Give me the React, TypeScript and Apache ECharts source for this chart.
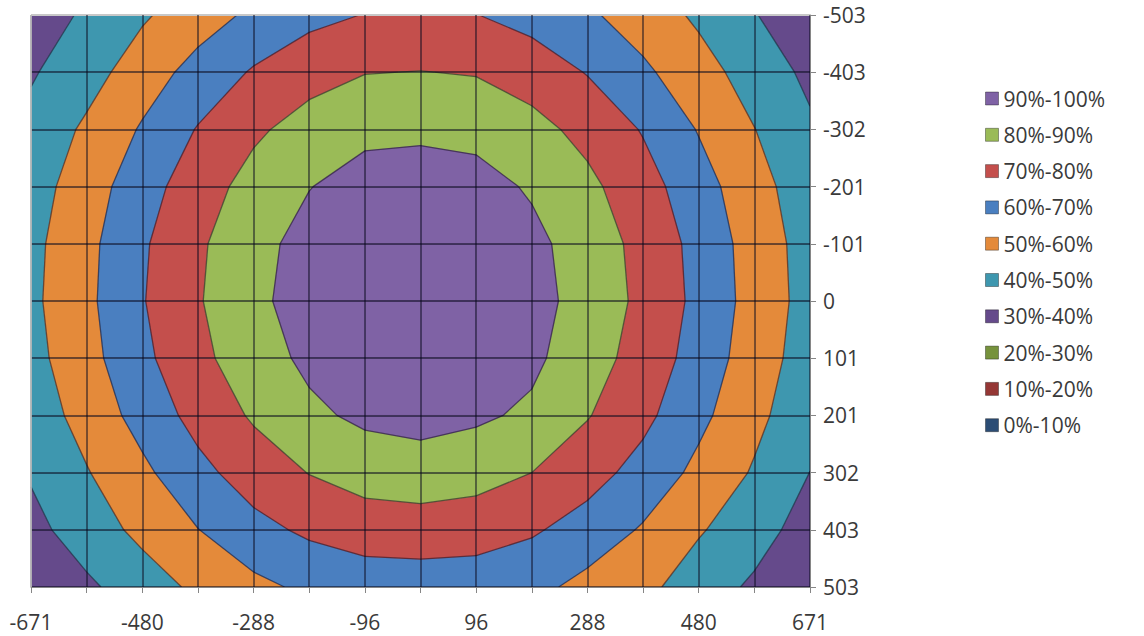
import React, { useEffect, useRef } from "react";
import * as echarts from "echarts";

// category labels
const xLabels = ["-671", "-575", "-480", "-384", "-288", "-192", "-96", "0", "96", "192", "288", "384", "480", "575", "671"];
const yLabels = ["-503", "-403", "-302", "-201", "-101", "0", "101", "201", "302", "403", "503"];

// band names / colours (0%-10% ... 90%-100%)
const bandNames = ["0%-10%", "10%-20%", "20%-30%", "30%-40%", "40%-50%", "50%-60%", "60%-70%", "70%-80%", "80%-90%", "90%-100%"];
const bandColors = ["#2C4D75", "#953735", "#76923C", "#654A8B", "#3E97AF", "#E48A3A", "#4A7FC0", "#C44F4C", "#9ABB57", "#7F62A5"];

// surface values (%), one array per y category (top -503 ... bottom 503), 15 x categories each
const rowM503 = [34.4, 41.6, 48.7, 55.5, 61.9, 67.2, 70.3, 71.2, 70.2, 66.4, 61.5, 55.3, 48.3, 40.5, 33.2];
const rowM403 = [39.0, 46.0, 55.1, 63.5, 71.0, 76.4, 79.7, 80.2, 79.4, 75.6, 69.5, 61.8, 53.9, 45.7, 37.8];
const rowM302 = [42.9, 51.7, 61.0, 70.6, 78.3, 83.9, 87.6, 87.8, 87.2, 83.1, 77.1, 69.3, 59.4, 50.2, 41.5];
const rowM201 = [45.7, 55.2, 65.8, 75.5, 83.5, 89.7, 94.0, 95.6, 93.5, 88.9, 82.3, 74.0, 64.1, 53.7, 44.3];
const rowM101 = [47.4, 57.3, 68.7, 78.5, 86.8, 93.5, 97.9, 99.1, 97.5, 92.5, 85.5, 77.0, 66.9, 55.7, 45.9];
const row0 = [47.9, 57.8, 69.4, 79.2, 87.6, 94.6, 98.8, 99.9, 98.3, 93.4, 86.3, 77.7, 67.5, 56.2, 46.3];
const row101 = [46.8, 56.6, 67.7, 77.5, 85.6, 92.1, 96.7, 97.9, 96.3, 92.0, 84.4, 76.0, 65.9, 55.0, 45.3];
const row201 = [44.5, 53.7, 63.7, 73.4, 81.2, 88.0, 92.0, 93.6, 91.6, 88.3, 80.6, 72.5, 62.5, 52.6, 43.3];
const row302 = [41.0, 49.4, 57.9, 67.2, 74.7, 80.3, 84.2, 85.3, 83.8, 80.0, 73.8, 66.5, 57.5, 49.0, 39.9];
const row403 = [37.0, 45.0, 52.5, 59.8, 67.0, 71.8, 74.8, 75.5, 74.5, 71.2, 66.0, 59.0, 51.0, 43.8, 36.0];
const row503 = [31.3, 38.2, 45.2, 52.0, 57.5, 62.0, 64.5, 64.8, 64.5, 62.8, 57.0, 52.8, 44.5, 38.5, 30.8];

const surface = [rowM503, rowM403, rowM302, rowM201, rowM101, row0, row101, row201, row302, row403, row503];

const FONT = "'Open Sans', 'Noto Sans', sans-serif";
const TEXT = "#3A3A3A";
const FS = 21;

type P = { x: number; y: number; v: number };

function clip(pts: P[], thr: number, above: boolean): P[] {
  const out: P[] = [];
  for (let n = 0; n < pts.length; n++) {
    const a = pts[n];
    const b = pts[(n + 1) % pts.length];
    const ina = above ? a.v >= thr : a.v <= thr;
    const inb = above ? b.v >= thr : b.v <= thr;
    if (ina) out.push(a);
    if (ina !== inb) {
      const t = (thr - a.v) / (b.v - a.v);
      out.push({ x: a.x + t * (b.x - a.x), y: a.y + t * (b.y - a.y), v: thr });
    }
  }
  return out;
}

function cellCorners(api: any): P[] {
  const i = api.value(0) as number;
  const j = api.value(1) as number;
  const c = [
    [i, j],
    [i + 1, j],
    [i + 1, j + 1],
    [i, j + 1],
  ];
  return c.map(([a, b]) => {
    const p = api.coord([a, b]);
    return { x: p[0], y: p[1], v: surface[b][a] };
  });
}

export default function App() {
  const ref = useRef<HTMLDivElement>(null);

  useEffect(() => {
    if (!ref.current) return;
    const chart = echarts.init(ref.current, undefined, { renderer: "svg" });

    const cells: number[][] = [];
    for (let j = 0; j < yLabels.length - 1; j++) {
      for (let i = 0; i < xLabels.length - 1; i++) cells.push([i, j]);
    }

    const bandSeries = bandNames.map((name, k) => ({
      type: "custom",
      name,
      coordinateSystem: "cartesian2d",
      data: cells,
      z: 2,
      silent: true,
      itemStyle: { color: bandColors[k] },
      renderItem: (_params: any, api: any) => {
        let pts = cellCorners(api);
        const lo = k * 10;
        const hi = k * 10 + 10;
        pts = clip(pts, lo, true);
        if (pts.length >= 3 && k < bandNames.length - 1) pts = clip(pts, hi, false);
        if (pts.length < 3) return null;
        return {
          type: "polygon",
          shape: { points: pts.map((p) => [p.x, p.y]) },
          style: { fill: bandColors[k], stroke: bandColors[k], lineWidth: 0.7 },
        };
      },
    }));

    const contourSeries = {
      type: "custom",
      name: "contours",
      coordinateSystem: "cartesian2d",
      data: cells,
      z: 3,
      silent: true,
      renderItem: (_params: any, api: any) => {
        const pts = cellCorners(api);
        const children: any[] = [];
        for (let L = 10; L < 100; L += 10) {
          const cross: number[][] = [];
          for (let n = 0; n < 4; n++) {
            const a = pts[n];
            const b = pts[(n + 1) % 4];
            if ((a.v < L && b.v >= L) || (a.v >= L && b.v < L)) {
              const t = (L - a.v) / (b.v - a.v);
              cross.push([a.x + t * (b.x - a.x), a.y + t * (b.y - a.y)]);
            }
          }
          for (let m = 0; m + 1 < cross.length; m += 2) {
            children.push({
              type: "line",
              shape: { x1: cross[m][0], y1: cross[m][1], x2: cross[m + 1][0], y2: cross[m + 1][1] },
              style: { stroke: "rgba(20,10,30,0.55)", lineWidth: 1.3 },
            });
          }
        }
        return { type: "group", children };
      },
    };

    const xSplit = xLabels.map((_, n) => (n === 0 ? "#B8B8B8" : "rgba(10,10,30,0.55)"));
    const ySplit = yLabels.map((_, n) => (n === 0 ? "#C8C8C8" : "rgba(10,10,30,0.55)"));

    chart.setOption({
      animation: false,
      backgroundColor: "#ffffff",
      textStyle: { fontFamily: FONT },
      grid: { left: 31, top: 15, right: 334, bottom: 49, containLabel: false, outerBoundsMode: "none" },
      legend: {
        orient: "vertical",
        left: 980,
        top: 83,
        itemWidth: 13,
        itemHeight: 13,
        itemGap: 15.3,
        icon: "rect",
        selectedMode: false,
        data: [...bandNames].reverse(),
        itemStyle: { borderColor: "rgba(0,0,0,0.35)", borderWidth: 1 },
        textStyle: { fontSize: FS, color: TEXT, fontFamily: FONT },
      },
      xAxis: {
        type: "category",
        data: xLabels,
        boundaryGap: false,
        z: 5,
        axisLine: { show: true, lineStyle: { color: "#868686", width: 1 } },
        axisTick: { show: true, interval: 0, length: 6, lineStyle: { color: "#868686" } },
        axisLabel: { interval: 1, margin: 24, color: TEXT, fontSize: FS, fontFamily: FONT },
        splitLine: { show: true, interval: 0, lineStyle: { color: xSplit, width: 1.8 } },
      },
      yAxis: {
        type: "category",
        data: yLabels,
        inverse: true,
        position: "right",
        boundaryGap: false,
        z: 5,
        axisLine: { show: true, lineStyle: { color: "#868686", width: 1 } },
        axisTick: { show: true, interval: 0, length: 6, lineStyle: { color: "#868686" } },
        axisLabel: { interval: 0, margin: 13, color: TEXT, fontSize: FS, fontFamily: FONT },
        splitLine: { show: true, interval: 0, lineStyle: { color: ySplit, width: 1.8 } },
      },
      series: [...bandSeries, contourSeries],
    });

    return () => chart.dispose();
  }, []);

  return (
    <div
      ref={ref}
      style={{ position: "fixed", left: 0, top: 0, width: 1144, height: 636, background: "#fff" }}
    />
  );
}
